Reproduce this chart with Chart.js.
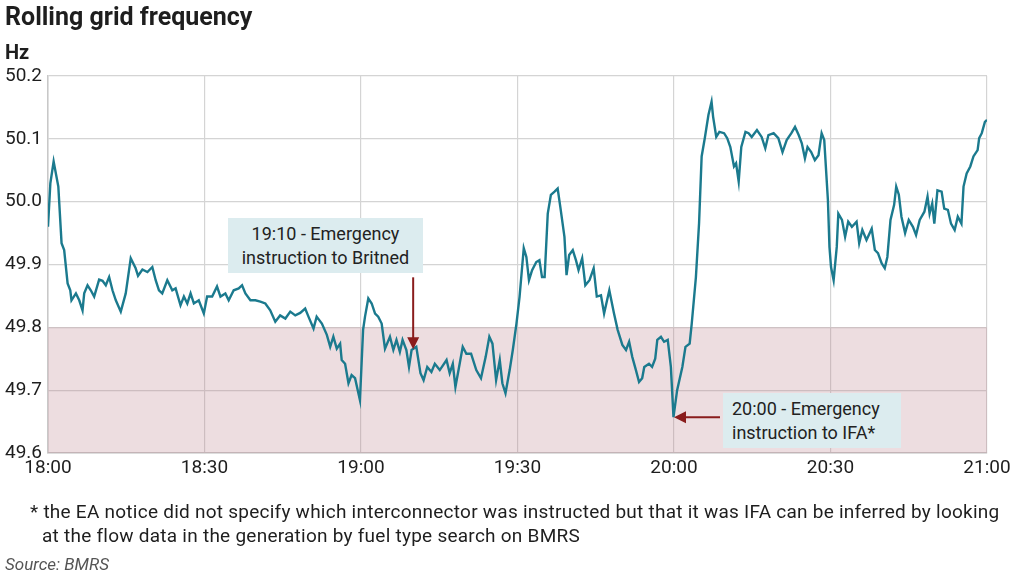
<!DOCTYPE html>
<html>
<head>
<meta charset="utf-8">
<script src="https://cdn.jsdelivr.net/npm/chart.js@4.4.1/dist/chart.umd.min.js"></script>
<style>
  html, body { margin: 0; padding: 0; background: #fff; }
  body { width: 1024px; height: 581px; position: relative; overflow: hidden; font-family: Roboto, "Noto Sans", sans-serif; color: #1e1e1e; }
  #wrap { position: absolute; left: 0; top: 0; width: 1024px; height: 581px; }
  .title { position: absolute; left: 5px; top: 2px; font-size: 25px; font-weight: bold; }
  .unit { position: absolute; left: 5px; top: 40px; font-size: 20px; font-weight: bold; }
  .note { position: absolute; background: #dcecef; font-size: 18px; line-height: 24px; color: #222; box-sizing: border-box; }
  .foot { position: absolute; left: 30px; top: 500px; width: 965px; font-size: 19px; letter-spacing: 0.25px; line-height: 24px; padding-left: 12px; text-indent: -12px; }
  .src { position: absolute; left: 5px; top: 554px; font-size: 17px; font-style: italic; color: #555; }
</style>
</head>
<body>
<div id="wrap"><canvas id="freqChart" width="1024" height="581"></canvas></div>
<div class="title">Rolling grid frequency</div>
<div class="unit">Hz</div>
<div class="note" style="left:228px;top:218px;width:195px;height:55px;padding-top:4px;text-align:center;">19:10 - Emergency<br>instruction to Britned</div>
<div class="note" style="left:723px;top:393px;width:178px;height:55px;padding:4px 0 0 9px;">20:00 - Emergency<br>instruction to IFA*</div>
<div class="foot">* the EA notice did not specify which interconnector was instructed but that it was IFA can be inferred by looking at the flow data in the generation by fuel type search on BMRS</div>
<div class="src">Source: BMRS</div>
<script>
// minutes after 18:00
const minutes = [0, 0.45, 1.08, 1.98, 2.6, 3.1, 3.76, 4.27, 4.5, 5.35, 5.99, 6.62, 6.94, 7.58, 8.2, 8.85, 9.8, 10.45, 11.08, 11.72,
  12.36, 13.0, 13.95, 14.9, 15.86, 16.8, 17.26, 18.1, 19.05, 20.0, 20.64, 21.27, 21.9, 22.87, 23.83, 24.46, 25.4, 26.05, 26.7, 27.33,
  27.96, 28.9, 29.87, 30.5, 31.47, 32.4, 33.06, 34.0, 34.64, 35.6, 36.56, 37.2, 37.84, 38.8, 39.75, 40.7, 41.66, 42.6, 43.57, 44.5,
  45.5, 46.44, 47.4, 48.35, 49.3, 49.93, 50.9, 51.5, 52.5, 53.45, 54.1, 54.7, 55.36, 56.0, 56.3, 56.95, 57.6, 58.2, 58.86, 59.8,
  60.4, 60.77, 61.4, 62.05, 62.7, 63.3, 63.96, 64.6, 65.55, 66.2, 66.8, 67.45, 67.97, 68.7, 69.2, 69.7, 70.6, 71.4, 72.0, 72.7,
  73.5, 74.15, 75.1, 76.4, 77.0, 77.6, 78.1, 78.8, 79.5, 80.2, 81.1, 82.1, 83.0, 83.9, 84.6, 85.2, 85.9, 86.6, 87.1, 87.7,
  88.5, 89.1, 89.8, 90.4, 91.2, 91.7, 92.2, 92.8, 93.6, 94.2, 94.7, 95.2, 95.8, 96.4, 97.1, 97.7, 98.2, 99.0, 99.4, 99.9,
  100.6, 101.2, 101.7, 102.4, 103.0, 103.8, 104.6, 105.2, 106.0, 106.6, 107.6, 108.5, 109.2, 110.1, 110.8, 111.4, 112.0, 112.7, 113.3, 113.9,
  114.3, 115.2, 115.8, 116.4, 116.8, 117.5, 118.1, 118.8, 119.4, 119.9, 120.6, 121.6, 122.2, 123.0, 123.4, 124.2, 124.8, 125.3, 125.9, 126.6,
  127.2, 127.5, 128.1, 128.7, 129.6, 130.2, 130.8, 131.5, 131.9, 132.4, 132.9, 133.7, 134.3, 134.9, 135.9, 136.8, 137.5, 138.1, 139.1, 140.0,
  140.8, 141.6, 142.5, 143.2, 143.9, 144.5, 145.1, 145.6, 146.3, 147.0, 147.7, 148.3, 148.8, 149.5, 149.8, 150.1, 150.6, 151.2, 151.5, 152.2,
  152.8, 153.4, 154.1, 155.0, 155.5, 156.1, 156.9, 157.9, 158.5, 159.1, 159.8, 160.4, 160.9, 161.5, 162.2, 162.6, 163.1, 163.6, 164.3, 165.0,
  165.8, 166.4, 167.1, 168.0, 168.6, 169.0, 169.5, 169.9, 170.5, 171.3, 171.8, 172.5, 173.1, 173.8, 174.4, 175.1, 175.5, 176.1, 176.8, 177.4,
  178.2, 178.5, 179.0, 179.6, 180.0];

const frequency = [49.96, 50.029, 50.064, 50.024, 49.934, 49.923, 49.870, 49.859, 49.843, 49.854, 49.843, 49.827, 49.854, 49.867, 49.859, 49.849, 49.876, 49.874, 49.867, 49.880,
  49.859, 49.843, 49.825, 49.854, 49.910, 49.894, 49.882, 49.892, 49.888, 49.896, 49.875, 49.859, 49.854, 49.875, 49.859, 49.862, 49.835, 49.849, 49.838, 49.854,
  49.838, 49.843, 49.822, 49.849, 49.849, 49.865, 49.849, 49.854, 49.843, 49.859, 49.862, 49.867, 49.854, 49.843, 49.843, 49.841, 49.838, 49.827, 49.809, 49.819,
  49.814, 49.825, 49.819, 49.823, 49.830, 49.817, 49.798, 49.817, 49.806, 49.788, 49.769, 49.785, 49.766, 49.774, 49.748, 49.742, 49.711, 49.724, 49.719, 49.684,
  49.796, 49.817, 49.846, 49.838, 49.822, 49.817, 49.806, 49.766, 49.785, 49.764, 49.780, 49.761, 49.780, 49.764, 49.737, 49.764, 49.769, 49.727, 49.716, 49.737,
  49.729, 49.742, 49.732, 49.748, 49.727, 49.742, 49.705, 49.737, 49.769, 49.758, 49.758, 49.732, 49.719, 49.753, 49.785, 49.774, 49.716, 49.748, 49.711, 49.695,
  49.732, 49.764, 49.806, 49.849, 49.926, 49.912, 49.875, 49.891, 49.904, 49.907, 49.880, 49.880, 49.981, 50.011, 50.016, 50.021, 49.992, 49.944, 49.883, 49.915,
  49.923, 49.907, 49.891, 49.910, 49.867, 49.875, 49.894, 49.849, 49.851, 49.822, 49.859, 49.822, 49.796, 49.772, 49.764, 49.777, 49.753, 49.732, 49.713, 49.719,
  49.737, 49.742, 49.737, 49.750, 49.780, 49.785, 49.777, 49.780, 49.737, 49.657, 49.700, 49.737, 49.769, 49.774, 49.806, 49.880, 49.965, 50.072, 50.101, 50.138,
  50.159, 50.135, 50.103, 50.111, 50.109, 50.101, 50.087, 50.056, 50.061, 50.032, 50.087, 50.111, 50.109, 50.103, 50.114, 50.103, 50.085, 50.106, 50.109, 50.101,
  50.079, 50.098, 50.109, 50.119, 50.106, 50.093, 50.069, 50.087, 50.079, 50.066, 50.074, 50.109, 50.098, 50.003, 49.928, 49.896, 49.875, 49.928, 49.981, 49.971,
  49.944, 49.968, 49.960, 49.968, 49.934, 49.955, 49.939, 49.957, 49.923, 49.918, 49.902, 49.894, 49.912, 49.971, 49.995, 50.024, 50.011, 49.976, 49.950, 49.971,
  49.960, 49.947, 49.971, 49.984, 50.008, 49.981, 49.997, 49.965, 50.018, 50.016, 49.989, 49.987, 49.965, 49.955, 49.976, 49.965, 50.024, 50.045, 50.056, 50.072,
  50.082, 50.101, 50.109, 50.127, 50.13];

const lowLimit = 49.8;               // statutory lower limit, shaded below
const xTicks = [0, 30, 60, 90, 120, 150, 180];
const xTickLabels = ['18:00', '18:30', '19:00', '19:30', '20:00', '20:30', '21:00'];
const yTicks = [49.6, 49.7, 49.8, 49.9, 50.0, 50.1, 50.2];

// annotation anchors: time (minutes after 18:00) and frequency at the arrow tip
const noteTimes = [70, 120];
const noteValues = [49.765, 49.657];

const seriesPoints = minutes.map((m, i) => ({ x: m, y: frequency[i] }));

// arrows from the label boxes to the events
const arrowPlugin = {
  id: 'arrows',
  afterDatasetsDraw(chart) {
    const { ctx, scales } = chart;
    const tails = [[0, -72], [46, 0]];
    ctx.save();
    ctx.strokeStyle = '#8a1c1c';
    ctx.fillStyle = '#8a1c1c';
    ctx.lineWidth = 2;
    noteTimes.forEach((t, i) => {
      const tx = scales.x.getPixelForValue(t);
      const ty = scales.y.getPixelForValue(noteValues[i]);
      const sx = tx + tails[i][0], sy = ty + tails[i][1];
      const ang = Math.atan2(ty - sy, tx - sx);
      ctx.beginPath();
      ctx.moveTo(sx, sy);
      ctx.lineTo(tx - 10 * Math.cos(ang), ty - 10 * Math.sin(ang));
      ctx.stroke();
      ctx.beginPath();
      ctx.moveTo(tx, ty);
      ctx.lineTo(tx - 12 * Math.cos(ang) + 6 * Math.sin(ang), ty - 12 * Math.sin(ang) - 6 * Math.cos(ang));
      ctx.lineTo(tx - 12 * Math.cos(ang) - 6 * Math.sin(ang), ty - 12 * Math.sin(ang) + 6 * Math.cos(ang));
      ctx.closePath();
      ctx.fill();
    });
    ctx.restore();
  }
};

const ctx = document.getElementById('freqChart').getContext('2d');
new Chart(ctx, {
  type: 'line',
  data: {
    datasets: [
      {
        data: seriesPoints,
        borderColor: '#1b7a8e',
        borderWidth: 2.4,
        pointRadius: 0,
        tension: 0,
        fill: false,
        order: 1
      },
      {
        data: [{ x: xTicks[0], y: lowLimit }, { x: xTicks[xTicks.length - 1], y: lowLimit }],
        borderWidth: 0,
        pointRadius: 0,
        backgroundColor: 'rgba(185, 120, 130, 0.25)',
        fill: 'start',
        order: 2
      }
    ]
  },
  options: {
    responsive: false,
    animation: false,
    events: [],
    layout: { padding: { left: 5, right: 37, top: 76, bottom: 0 } },
    plugins: { legend: { display: false }, tooltip: { enabled: false } },
    scales: {
      x: {
        type: 'linear',
        min: 0,
        max: 180,
        afterBuildTicks: s => { s.ticks = xTicks.map(v => ({ value: v })); },
        afterFit: s => { s.height = 128; },
        ticks: {
          callback: v => xTickLabels[xTicks.indexOf(v)],
          color: '#1e1e1e',
          font: { size: 19, family: 'Roboto' },
          padding: 4,
          maxRotation: 0
        },
        grid: { color: '#d4d4d4', lineWidth: 1.2, drawTicks: false },
        border: { color: '#c8c8c8', width: 1.5 }
      },
      y: {
        min: 49.6,
        max: 50.2,
        afterBuildTicks: s => { s.ticks = yTicks.map(v => ({ value: v })); },
        afterFit: s => { s.width = 43; },
        ticks: {
          callback: v => v.toFixed(1),
          color: '#1e1e1e',
          font: { size: 19, family: 'Roboto' },
          crossAlign: 'far',
          padding: 4
        },
        grid: { color: '#d4d4d4', lineWidth: 1.2, drawTicks: false },
        border: { color: '#c8c8c8', width: 1.5 }
      }
    }
  },
  plugins: [arrowPlugin]
});
</script>
</body>
</html>
